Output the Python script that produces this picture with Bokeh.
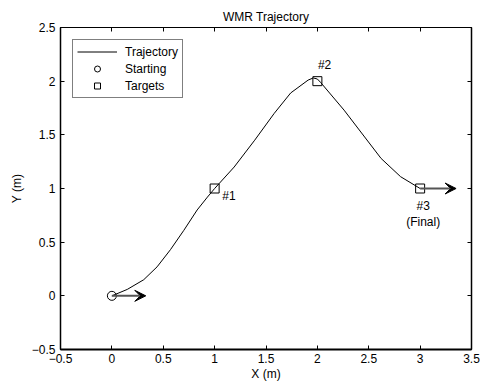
from bokeh.plotting import figure
from bokeh.models import (LinearAxis, Range1d, FixedTicker, Arrow, VeeHead, Legend, LegendItem,
                          ColumnDataSource, LabelSet)
from bokeh.embed import file_html
from bokeh.resources import INLINE
from bokeh.core.properties import value

# ---- data ----
traj_x = [0, 0.15, 0.31, 0.44, 0.57, 0.70, 0.83, 0.93, 1.0, 1.19, 1.39, 1.58, 1.74, 1.91, 1.96, 2.0, 2.03, 2.26, 2.46, 2.62, 2.81, 3.0]
traj_y = [0, 0.06, 0.15, 0.27, 0.43, 0.61, 0.80, 0.92, 1.0, 1.20, 1.45, 1.70, 1.89, 2.01, 2.03, 2.02, 1.99, 1.73, 1.48, 1.28, 1.11, 1.0]
start_x = [0]
start_y = [0]
target_x = [1, 2, 3]
target_y = [1, 2, 1]
arrow_x0 = [0, 3]
arrow_y0 = [0, 1]
arrow_x1 = [0.33, 3.35]
arrow_y1 = [0, 1]
label_text = ["#1", "#2", "#3", "(Final)"]
label_x = [1.14, 2.07, 3.03, 3.03]
label_y = [0.93, 2.15, 0.84, 0.69]
x_ticks = [-0.5, 0, 0.5, 1, 1.5, 2, 2.5, 3, 3.5]
y_ticks = [-0.5, 0, 0.5, 1, 1.5, 2, 2.5]

FONT = "Liberation Sans"
FS = "12px"

p = figure(frame_width=411, frame_height=322, output_backend="svg", toolbar_location=None,
           x_range=Range1d(-0.5, 3.5), y_range=Range1d(-0.5, 2.5),
           title="WMR Trajectory", x_axis_label="X (m)", y_axis_label="Y (m)",
           min_border_left=60, min_border_right=12, min_border_top=27, min_border_bottom=36)
p.title.align = "center"
p.title.text_font = FONT
p.title.text_font_size = FS
p.title.text_font_style = "normal"
p.title.text_color = "black"
p.title.standoff = 7
p.title.offset = 0
p.grid.visible = False
p.outline_line_color = "black"
p.outline_line_width = 1
p.background_fill_color = "white"
p.border_fill_color = "white"

for ax, ticks in ((p.xaxis[0], x_ticks), (p.yaxis[0], y_ticks)):
    ax.ticker = FixedTicker(ticks=ticks)
    ax.major_tick_in = 4
    ax.major_tick_out = 0
    ax.major_tick_line_color = "black"
    ax.minor_tick_line_color = None
    ax.axis_line_color = "black"
    ax.major_label_text_font = FONT
    ax.major_label_text_font_size = FS
    ax.major_label_text_color = "black"
    ax.axis_label_text_font = FONT
    ax.axis_label_text_font_size = FS
    ax.axis_label_text_font_style = "normal"
    ax.axis_label_text_color = "black"
p.xaxis[0].axis_line_width = 2
p.xaxis[0].major_label_standoff = 4
p.xaxis[0].axis_label_standoff = 1
p.yaxis[0].axis_line_width = 1.5
p.yaxis[0].major_label_standoff = 5
p.yaxis[0].axis_label_standoff = 5

# mirrored axes (ticks only) on top and right
top = LinearAxis(ticker=FixedTicker(ticks=x_ticks), major_tick_in=4, major_tick_out=0,
                 major_tick_line_color="black", axis_line_color="black",
                 minor_tick_line_color=None, major_label_overrides={t: "" for t in x_ticks},
                 major_label_standoff=0, major_label_text_font_size="1px")
right = LinearAxis(ticker=FixedTicker(ticks=y_ticks), major_tick_in=4, major_tick_out=0,
                   major_tick_line_color="black", axis_line_color="black",
                   minor_tick_line_color=None, major_label_overrides={t: "" for t in y_ticks},
                   major_label_standoff=0, major_label_text_font_size="1px", axis_line_width=1.5)
p.add_layout(top, "above")
p.add_layout(right, "right")

r_line = p.line(traj_x, traj_y, line_color="black", line_width=1)
r_start = p.scatter(start_x, start_y, marker="circle", size=9, fill_color=None,
                    line_color="black", line_width=1)
r_targ = p.scatter(target_x, target_y, marker="square", size=9, fill_color=None,
                   line_color="black", line_width=1)

for x0, y0, x1, y1 in zip(arrow_x0, arrow_y0, arrow_x1, arrow_y1):
    p.add_layout(Arrow(x_start=x0, y_start=y0, x_end=x1, y_end=y1,
                       line_color="#555555", line_width=2,
                       end=VeeHead(size=11, fill_color="black", line_color="black", line_width=1)))

src = ColumnDataSource(dict(x=label_x, y=label_y, t=label_text))
p.add_layout(LabelSet(x="x", y="y", text="t", source=src, text_font=value(FONT),
                      text_font_size=FS, text_align="center", text_baseline="middle",
                      text_color="black"))

legend = Legend(items=[LegendItem(label="Trajectory", renderers=[r_line]),
                       LegendItem(label="Starting", renderers=[r_start]),
                       LegendItem(label="Targets", renderers=[r_targ])],
                location="top_left")
legend.label_text_font = FONT
legend.label_text_font_size = FS
legend.label_text_color = "black"
legend.glyph_width = 40
legend.glyph_height = 15
legend.label_height = 15
legend.spacing = 2
legend.padding = 4
legend.margin = 12
legend.label_standoff = 8
legend.border_line_color = "black"
legend.border_line_width = 1.5
legend.background_fill_alpha = 1
p.add_layout(legend)

open("out.html", "w").write(file_html(p, INLINE))
